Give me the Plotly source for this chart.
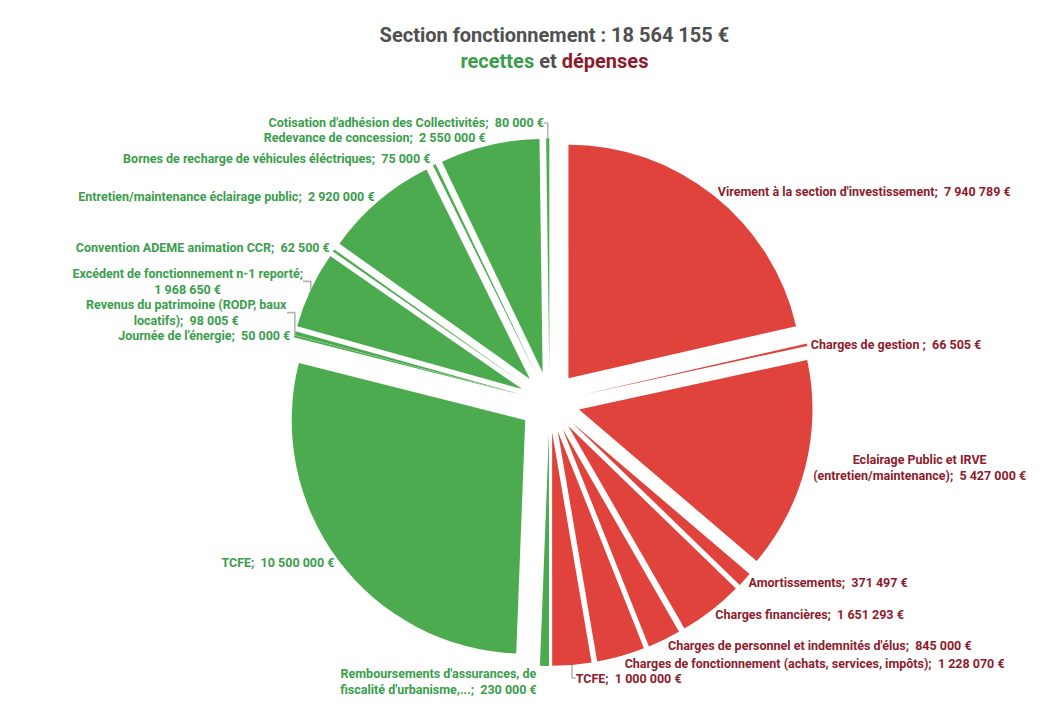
import plotly.graph_objects as go

# Dépenses (red), then recettes (green), clockwise from 12 o'clock
depenses_labels = [
    "Virement à la section d'investissement",
    "Charges de gestion ",
    "Eclairage Public et IRVE<br>(entretien/maintenance)",
    "Amortissements",
    "Charges financières",
    "Charges de personnel et indemnités d'élus",
    "Charges de fonctionnement (achats, services, impôts)",
    "TCFE",
]
depenses_values = [7940789, 66505, 5427000, 371497, 1651293, 845000, 1228070, 1000000]

recettes_labels = [
    "Remboursements d'assurances, de<br>fiscalité d'urbanisme,...",
    "TCFE",
    "Journée de l'énergie",
    "Revenus du patrimoine (RODP, baux<br>locatifs)",
    "Excédent de fonctionnement n-1 reporté;<br>",
    "Convention ADEME animation CCR",
    "Entretien/maintenance éclairage public",
    "Bornes de recharge de véhicules éléctriques",
    "Redevance de concession",
    "Cotisation d'adhésion des Collectivités",
]
recettes_values = [230000, 10500000, 50000, 98005, 1968650, 62500, 2920000, 75000, 2550000, 80000]

RED = "#E0423C"
GREEN = "#4CAA4F"
RED_TXT = "#8E1B2C"
GREEN_TXT = "#3A9E4C"
LINE_GRAY = "#B4B4B4"


def fmt(v):
    return f"{v:,}".replace(",", " ") + " €"


def make_text(lbl, v, color):
    full = lbl + fmt(v) if lbl.endswith("<br>") else lbl + ";  " + fmt(v)
    return "<br>".join(f"<span style='color:{color}'>{part}</span>" for part in full.split("<br>"))


labels = depenses_labels + recettes_labels
values = depenses_values + recettes_values
txtcolors = [RED_TXT] * len(depenses_values) + [GREEN_TXT] * len(recettes_values)
texts = [make_text(l, v, c) for l, v, c in zip(labels, values, txtcolors)]
colors = [RED] * len(depenses_values) + [GREEN] * len(recettes_values)
ids = [f"d{i}" for i in range(len(depenses_values))] + [f"r{i}" for i in range(len(recettes_values))]

fig = go.Figure(
    go.Pie(
        ids=ids,
        labels=ids,
        values=values,
        text=texts,
        textinfo="text",
        textposition="outside",
        sort=False,
        direction="clockwise",
        rotation=0,
        pull=[0.13] * len(values),
        marker=dict(colors=colors, line=dict(width=0)),
        textfont=dict(color=LINE_GRAY, family="Roboto", size=12.5, weight="bold"),
        outsidetextfont=dict(color=LINE_GRAY, family="Roboto", size=12.5, weight="bold"),
        showlegend=False,
        automargin=False,
        domain=dict(x=[0.2617, 0.7591], y=[0.0723, 0.8209]),
        hoverinfo="text",
    )
)

fig.update_layout(
    width=1061,
    height=712,
    margin=dict(l=0, r=0, t=0, b=0),
    paper_bgcolor="white",
    plot_bgcolor="white",
    title=dict(
        text=(
            "<span style='color:#505050'>Section fonctionnement : 18 564 155 €</span><br>"
            f"<span style='color:{GREEN_TXT}'>recettes</span> "
            "<span style='color:#505050'>et</span> "
            f"<span style='color:{RED_TXT}'>dépenses</span>"
        ),
        x=0.515,
        xanchor="center",
        y=0.952,
        yanchor="top",
        font=dict(family="Roboto", size=20, weight="bold"),
    ),
)

fig.write_html("out.html")
